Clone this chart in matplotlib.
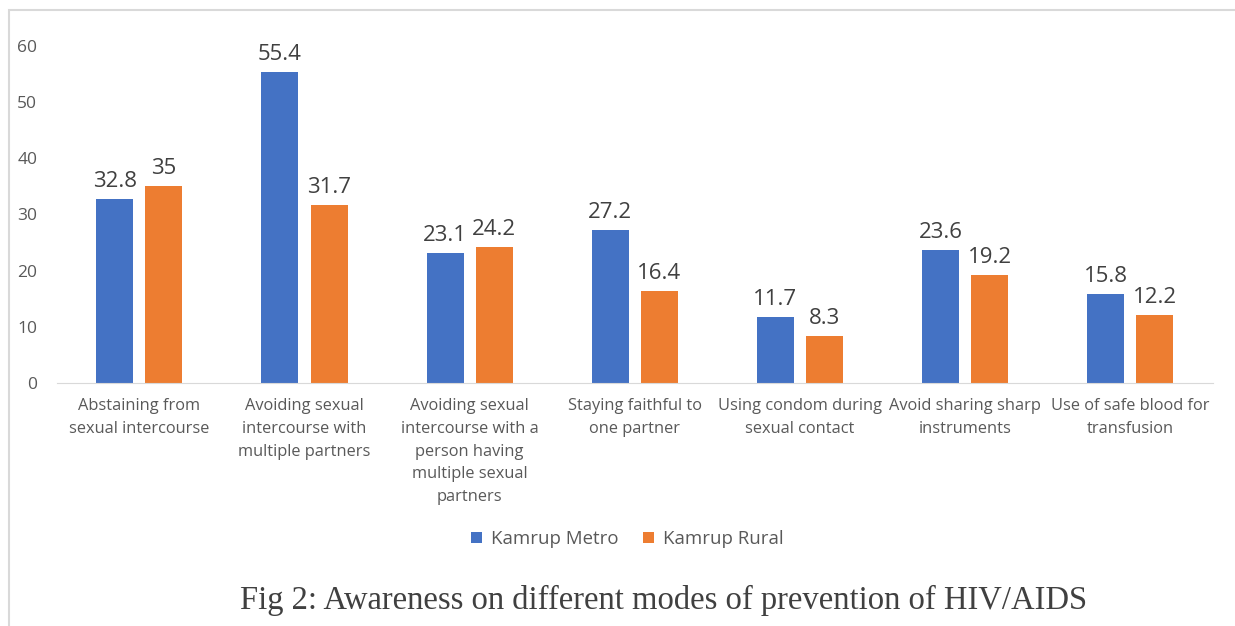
import matplotlib.pyplot as plt
import numpy as np
from matplotlib.patches import Rectangle

categories = [
    'Abstaining from\nsexual intercourse',
    'Avoiding sexual\nintercourse with\nmultiple partners',
    'Avoiding sexual\nintercourse with a\nperson having\nmultiple sexual\npartners',
    'Staying faithful to\none partner',
    'Using condom during\nsexual contact',
    'Avoid sharing sharp\ninstruments',
    'Use of safe blood for\ntransfusion',
]
metro = [32.8, 55.4, 23.1, 27.2, 11.7, 23.6, 15.8]
rural = [35, 31.7, 24.2, 16.4, 8.3, 19.2, 12.2]
yticks = [0, 10, 20, 30, 40, 50, 60]

blue = '#4472C4'
orange = '#ED7D31'
grey = '#595959'

plt.rcParams['font.family'] = ['Open Sans', 'DejaVu Sans']

fig = plt.figure(figsize=(12.35, 6.26), dpi=100)
ax = fig.add_axes([0.046, 0.388, 0.936, 0.539])

x = np.arange(len(categories))
w = 0.224
off = 0.149
b1 = ax.bar(x - off, metro, w, color=blue, label='Kamrup Metro')
b2 = ax.bar(x + off, rural, w, color=orange, label='Kamrup Rural')
ax.bar_label(b1, labels=[f'{v:g}' for v in metro], padding=5, fontsize=16, color='#404040')
ax.bar_label(b2, labels=[f'{v:g}' for v in rural], padding=5, fontsize=16, color='#404040')

ax.set_xlim(-0.5, len(categories) - 0.5)
ax.set_ylim(0, 60)
ax.set_yticks(yticks)
ax.set_xticks(x)
ax.set_xticklabels(categories, fontsize=11.8, color=grey, linespacing=1.55)
ax.tick_params(axis='x', length=0, pad=11)
ax.tick_params(axis='y', length=0, pad=14, labelsize=12.5, labelcolor=grey)
for s in ['top', 'right', 'left']:
    ax.spines[s].set_visible(False)
ax.spines['bottom'].set_color('#d9d9d9')

fig.legend(handles=[b1, b2], loc='center', bbox_to_anchor=(0.508, 0.139), ncol=2,
           frameon=False, fontsize=13.4, handlelength=0.6, handleheight=0.6,
           handletextpad=0.5, columnspacing=1.3, labelcolor=grey)

fig.patches.append(Rectangle((9 / 1235, -0.1), 1.2, 1 - 10 / 626 + 0.1,
                             transform=fig.transFigure, fill=False,
                             edgecolor='#d9d9d9', linewidth=1.5))

fig.text(0.537, 0.040, 'Fig 2: Awareness on different modes of prevention of HIV/AIDS',
         ha='center', va='center', fontsize=23.5, family='Liberation Serif', color='#404040')

plt.savefig('out.png', dpi=100)
